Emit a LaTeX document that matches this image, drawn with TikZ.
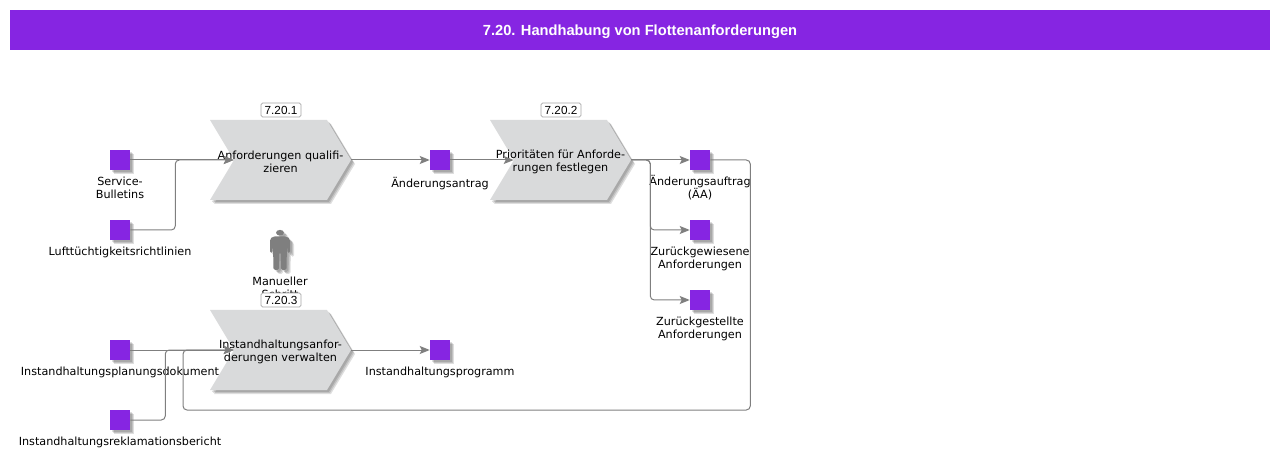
\documentclass[tikz,border=0pt]{standalone}
\usepackage{fontspec}
\setmainfont{DejaVu Sans}
\newfontfamily\badgefont{Liberation Sans}
\usetikzlibrary{shapes.symbols, shadows, arrows.meta}
\definecolor{prozess}{HTML}{D9DADB}
\definecolor{lila}{HTML}{8625E2}
\definecolor{linie}{HTML}{7F7F7F}
\newcommand{\labelsize}{\fontsize{8.4}{9.75}\selectfont}

\begin{document}
\begin{tikzpicture}[
    x=0.75pt, y=-0.75pt,
    layer/.style={general shadow={shadow xshift=#1, shadow yshift=-#1, fill=black, opacity=0.13}},
    soft/.style={layer=3pt, layer=2.2pt, layer=1.4pt},
    titlebar/.style={fill=lila, text=white, minimum width=945pt, minimum height=30pt,
        inner sep=0pt, font=\badgefont\bfseries\fontsize{11}{12}\selectfont,
        execute at begin node=\rule{0pt}{11pt}},
    process/.style={signal, signal to=east, signal from=west, signal pointer angle=118,
        fill=prozess, soft, minimum width=105.75pt, minimum height=60pt, inner sep=0pt,
        label={[caption, yshift=-1.5pt]center:#1}},
    info/.style={rectangle, fill=lila, soft, minimum size=15pt, inner sep=0pt},
    caption/.style={align=center, inner sep=0pt, font=\labelsize},
    badge/.style={rectangle, rounded corners=1.2pt, draw=black!35, fill=white, line width=0.5pt,
        minimum width=30pt, minimum height=10.5pt, inner sep=0pt, font=\badgefont\fontsize{8.8}{9}\selectfont},
    flow/.style={draw=linie, line width=0.75pt, rounded corners=3pt,
        -{Stealth[length=7.5pt, width=6pt, inset=1.5pt]}}
]
    \useasboundingbox (0,0) rectangle (1280,459);
    \node[titlebar] (title) at (640,30) {7.20. Handhabung von Flottenanforderungen};

    \node[process={Anforderungen qualifi-\\zieren}] (p1) at (280.5,160) {};
    \node[process={Prioritäten für Anforde-\\rungen festlegen}] (p2) at (560.5,160) {};
    \node[process={Instandhaltungsanfor-\\derungen verwalten}] (p3) at (280.5,350) {};

    \node[info] (bulletin) at (120,160) {};
    \node[info] (richtlinie) at (120,230) {};
    \node[info] (antrag) at (440,160) {};
    \node[info] (auftrag) at (700,160) {};
    \node[info] (zurueck) at (700,230) {};
    \node[info] (gestellt) at (700,300) {};
    \node[info] (plan) at (120,350) {};
    \node[info] (bericht) at (120,420) {};
    \node[info] (programm) at (440,350) {};

    \node[caption] (bulletintxt) at (120,187.5) {Service-\\Bulletins};
    \node[caption] (richtlinietxt) at (120,252) {Lufttüchtigkeitsrichtlinien};
    \node[caption] (antragtxt) at (440,184) {Änderungsantrag};
    \node[caption] (auftragtxt) at (700,187.5) {Änderungsauftrag\\(ÄA)};
    \node[caption] (zuruecktxt) at (700,258.5) {Zurückgewiesene\\Anforderungen};
    \node[caption] (gestellttxt) at (700,328.5) {Zurückgestellte\\Anforderungen};
    \node[caption] (plantxt) at (120,372) {Instandhaltungsplanungsdokument};
    \node[caption] (berichttxt) at (120,442) {Instandhaltungsreklamationsbericht};
    \node[caption] (programmtxt) at (440,372) {Instandhaltungsprogramm};

    % Manueller Schritt
    \fill[linie, soft] (280,232.7) ellipse (4 and 2.8);
    \fill[linie, soft, rounded corners=1.2pt] (273,236.5) -- (287,236.5) -- (290,239) -- (290,253)
        -- (287.5,253) -- (287,244) -- (286.5,270) -- (281,270) -- (280.5,252) -- (279.5,252)
        -- (279,270) -- (273.5,270) -- (273,244) -- (272.5,253) -- (270,253) -- (270,239) -- cycle;
    \node[caption] (person) at (280,287.5) {Manueller\\Schritt};

    \node[badge] (b1) at (281,110) {7.20.1};
    \node[badge] (b2) at (561,110) {7.20.2};
    \node[badge] (b3) at (281,300) {7.20.3};

    \draw[flow] (bulletin.east) -- (p1.west);
    \draw[flow] (richtlinie.east) -- ++(45,0) |- (p1.west);
    \draw[flow] (p1.east) -- (antrag.west);
    \draw[flow] (antrag.east) -- (p2.west);
    \draw[flow] (p2.east) -- (auftrag.west);
    \draw[flow] (p2.east) -- ++(19,0) |- (zurueck.west);
    \draw[flow] (p2.east) -- ++(19,0) |- (gestellt.west);
    \draw[flow] (plan.east) -- (p3.west);
    \draw[flow] (bericht.east) -- ++(35,0) |- (p3.west);
    \draw[flow] (auftrag.east) -- ++(40,0) |- (183,410) |- (p3.west);
    \draw[flow] (p3.east) -- (programm.west);
\end{tikzpicture}
\end{document}
